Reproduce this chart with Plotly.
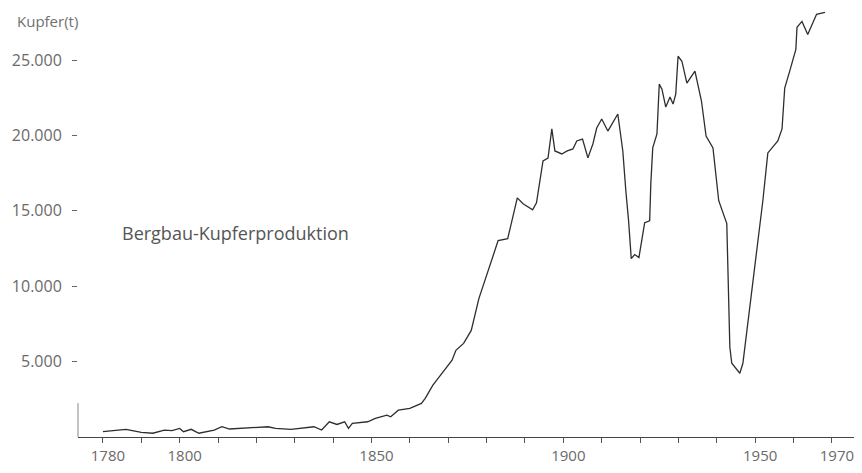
import plotly.graph_objects as go

years = [1780, 1786, 1790, 1793, 1796, 1798, 1800, 1801, 1803, 1805, 1809, 1811, 1813,
         1817, 1823, 1825, 1829, 1835, 1837, 1839, 1841, 1843, 1844, 1845, 1849, 1851,
         1854, 1855, 1857, 1860, 1863, 1864, 1866, 1867, 1869, 1871, 1872, 1874, 1876,
         1878, 1883, 1885.5, 1888, 1889.5, 1892, 1893, 1894.7, 1896, 1897, 1897.8,
         1899.6, 1901, 1902.5, 1903.5, 1905, 1906.4, 1907.7, 1908.7, 1910, 1911.6,
         1914.2, 1914.7, 1915.5, 1916.3, 1917, 1917.7, 1918.6, 1919.7, 1921.2, 1922.5,
         1922.8, 1923.3, 1924.4, 1925, 1925.7, 1926.7, 1927.8, 1928.6, 1929.3, 1929.9,
         1930.9, 1932.2, 1934.3, 1936, 1937.2, 1939, 1940, 1940.5, 1942.6, 1942.9,
         1943.4, 1943.9, 1946, 1946.8, 1952, 1953.3, 1955.9, 1957, 1957.7, 1959,
         1960.6, 1960.9, 1962.2, 1963.7, 1966, 1968.2]
copper_t = [350, 510, 310, 250, 460, 420, 570, 350, 510, 250, 460, 680, 530,
            570, 680, 570, 510, 680, 460, 1010, 830, 1010, 570, 900, 1010, 1230,
            1450, 1340, 1780, 1900, 2230, 2560, 3440, 3770, 4400, 5090, 5750, 6210, 7070,
            9190, 13020, 13150, 15860, 15470, 15070, 15530, 18310, 18500, 20430, 18970,
            18770, 18970, 19100, 19630, 19760, 18510, 19430, 20490, 21090, 20290,
            21420, 20430, 18970, 16300, 14350, 11830, 12100, 11900, 14210, 14340,
            16790, 19170, 20100, 23400, 23070, 21880, 22540, 22080, 22740, 25250,
            24920, 23470, 24260, 22280, 19960, 19170, 16990, 15670, 14150, 10380,
            5950, 4890, 4230, 4890, 15670, 18840, 19630, 20430, 23140, 24260,
            25710, 27170, 27560, 26700, 28030, 28160]

x_tickvals = list(range(1780, 1971, 10))
x_labeled = {1780: "1780", 1800: "1800", 1850: "1850", 1900: "1900", 1950: "1950", 1970: "1970"}
x_ticktext = [x_labeled.get(v, "") for v in x_tickvals]
y_tickvals = [5000, 10000, 15000, 20000, 25000]
y_ticktext = ["5.000", "10.000", "15.000", "20.000", "25.000"]

font_family = "Open Sans, DejaVu Sans, sans-serif"
label_color = "#6a6a6a"

fig = go.Figure()
fig.add_trace(go.Scatter(
    x=years, y=copper_t, mode="lines",
    line=dict(color="#2e2e2e", width=1.3),
    hoverinfo="skip", showlegend=False,
))

# page body has an 8px margin: figure is 854x465 so the plot lands where the reference has it
fig.update_layout(
    width=854, height=465,
    margin=dict(l=70, r=4, t=0, b=36),
    paper_bgcolor="white", plot_bgcolor="white",
    font=dict(family=font_family, size=15, color=label_color),
    xaxis=dict(
        range=[1773.5, 1976.8], showgrid=False, zeroline=False,
        showline=True, linecolor="#444", linewidth=1,
        ticks="outside", ticklen=5, tickcolor="#555", tickwidth=1,
        tickvals=x_tickvals, ticktext=x_ticktext,
        ticklabelshift=5, ticklabelstandoff=0,
        tickfont=dict(size=15, color=label_color),
    ),
    yaxis=dict(
        range=[0, 28450], showgrid=False, zeroline=False, showline=False,
        ticks="outside", ticklen=5, tickcolor="#666", tickwidth=1,
        tickvals=y_tickvals, ticktext=y_ticktext,
        ticklabelstandoff=7,
        tickfont=dict(size=16, color=label_color),
    ),
    shapes=[dict(type="line", xref="paper", yref="y", x0=0, x1=0, y0=0, y1=2250,
                 line=dict(color="#888", width=1))],
    annotations=[
        dict(text="Kupfer(t)", xref="paper", yref="paper", x=-0.0808, y=0.998,
             xanchor="left", yanchor="top", showarrow=False,
             font=dict(size=15, color="#707070")),
        dict(text="Bergbau-Kupferproduktion", xref="x", yref="y", x=1784.4, y=13530,
             xanchor="left", yanchor="middle", showarrow=False,
             font=dict(size=18, color="#555555")),
    ],
)

fig.write_html("out.html")
